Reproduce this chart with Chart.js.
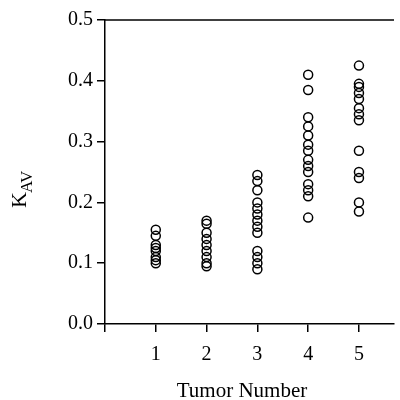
<!DOCTYPE html>
<html>
<head>
<meta charset="utf-8">
<script src="https://cdn.jsdelivr.net/npm/chart.js@4"></script>
<style>
  html, body { margin: 0; padding: 0; background: #fff; }
  #wrap { width: 400px; height: 400px; }
</style>
</head>
<body>
<div id="wrap"><canvas id="kav"></canvas></div>
<script>
const tumors = [1, 2, 3, 4, 5]
const tumor1 = [0.155, 0.145, 0.13, 0.125, 0.12, 0.11, 0.105, 0.1]
const tumor2 = [0.17, 0.165, 0.15, 0.14, 0.13, 0.12, 0.11, 0.1, 0.095]
const tumor3 = [0.245, 0.235, 0.22, 0.2, 0.19, 0.18, 0.17, 0.16, 0.15, 0.12, 0.11, 0.1, 0.09]
const tumor4 = [0.41, 0.385, 0.34, 0.325, 0.31, 0.295, 0.285, 0.27, 0.26, 0.25, 0.23, 0.22, 0.21, 0.175]
const tumor5 = [0.425, 0.395, 0.39, 0.38, 0.37, 0.355, 0.345, 0.335, 0.285, 0.25, 0.24, 0.2, 0.185]
const yTicks = [0, 0.1, 0.2, 0.3, 0.4, 0.5]

const values = [tumor1, tumor2, tumor3, tumor4, tumor5]
const points = []
tumors.forEach((t, i) => values[i].forEach((v) => points.push({ x: t, y: v })))

const serif = '"Liberation Serif", "DejaVu Serif", serif'

// подписи осей и верхняя рамка
const frame = {
  id: 'frame',
  afterDraw(chart) {
    const { ctx, chartArea } = chart
    ctx.save()
    ctx.strokeStyle = '#000'
    ctx.lineWidth = 1.5
    ctx.beginPath()
    ctx.moveTo(chartArea.left, chartArea.top)
    ctx.lineTo(chartArea.right, chartArea.top)
    ctx.stroke()

    ctx.fillStyle = '#000'
    ctx.textBaseline = 'alphabetic'
    ctx.textAlign = 'center'
    ctx.font = '21px ' + serif
    ctx.fillText('Tumor Number', 242, 397)

    ctx.translate(26, 181)
    ctx.rotate(-Math.PI / 2)
    ctx.textAlign = 'left'
    ctx.font = '22px ' + serif
    const kw = ctx.measureText('K').width
    ctx.fillText('K', -27, 0)
    ctx.font = '17px ' + serif
    ctx.fillText('AV', -27 + kw - 1, 6)
    ctx.restore()
  },
}

new Chart(document.getElementById('kav'), {
  type: 'scatter',
  data: {
    datasets: [
      {
        data: points,
        pointStyle: 'circle',
        pointRadius: 4.5,
        pointBorderWidth: 1.5,
        borderColor: '#000',
        backgroundColor: 'rgba(0,0,0,0)',
      },
    ],
  },
  options: {
    responsive: true,
    maintainAspectRatio: false,
    animation: false,
    layout: { padding: { top: 20, right: 0, left: 0, bottom: 0 } },
    plugins: { legend: { display: false }, tooltip: { enabled: false } },
    scales: {
      x: {
        type: 'linear',
        min: 0,
        max: 5.69,
        afterBuildTicks: (s) => { s.ticks = [0, ...tumors].map((v) => ({ value: v })) },
        afterFit: (s) => {
          s.height = 76
          s.paddingLeft = 0
          s.paddingRight = 0
        },
        ticks: {
          callback: (v) => (v === 0 ? '' : String(v)),
          color: '#000',
          padding: 11,
          maxRotation: 0,
          font: { family: serif, size: 20 },
        },
        grid: { drawOnChartArea: false, drawTicks: true, tickLength: 8, color: '#000', lineWidth: 1.5 },
        border: { display: true, color: '#000', width: 1.5 },
      },
      y: {
        min: 0,
        max: 0.5,
        afterBuildTicks: (s) => { s.ticks = yTicks.map((v) => ({ value: v })) },
        afterFit: (s) => { s.width = 105 },
        ticks: {
          callback: (v) => v.toFixed(1),
          color: '#000',
          padding: 4,
          font: { family: serif, size: 20 },
        },
        grid: { drawOnChartArea: false, drawTicks: true, tickLength: 8, color: '#000', lineWidth: 1.5 },
        border: { display: true, color: '#000', width: 1.5 },
      },
    },
  },
  plugins: [frame],
})
</script>
</body>
</html>
